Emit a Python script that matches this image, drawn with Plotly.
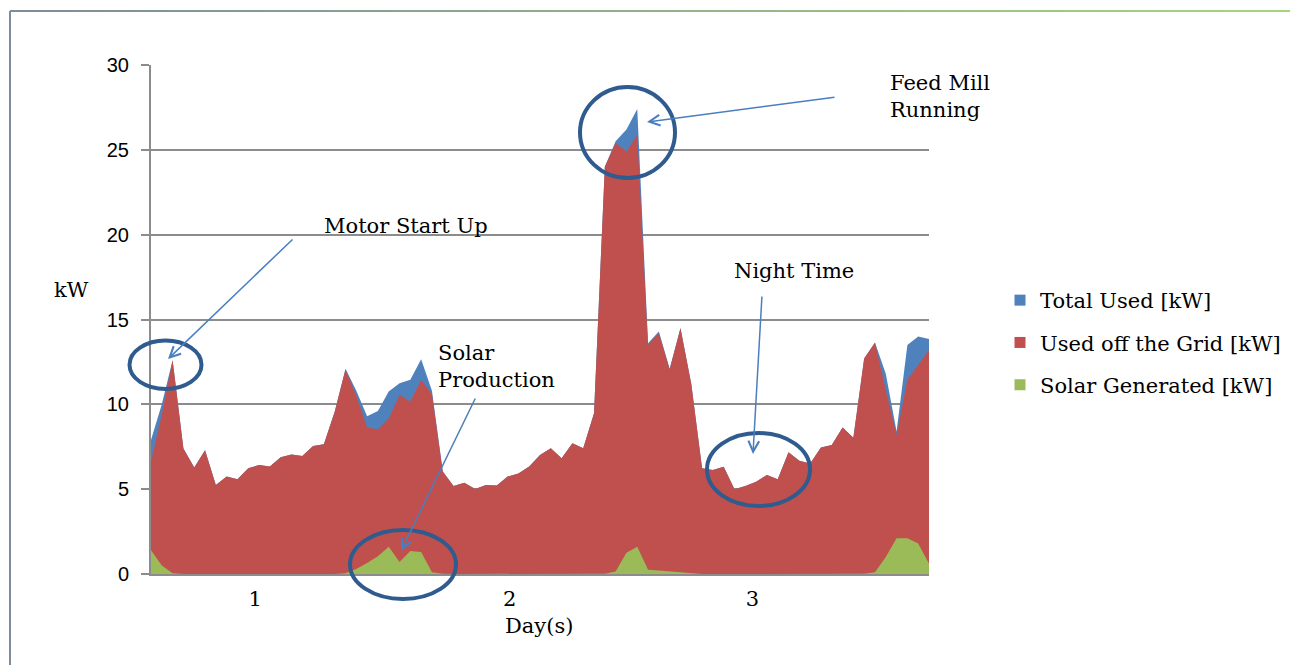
import plotly.graph_objects as go

# ---------------- data ----------------
hours = list(range(73))

total_used = [7.9, 10.0, 12.6, 7.4, 6.27, 7.3, 5.25, 5.74, 5.58, 6.23,
              6.42, 6.33, 6.88, 7.05, 6.95, 7.54, 7.64, 9.57, 12.1, 10.8,
              9.3, 9.6, 10.75, 11.24, 11.45, 12.65, 10.8, 6.05, 5.19, 5.38,
              5.01, 5.25, 5.21, 5.74, 5.93, 6.33, 7.01, 7.41, 6.82, 7.7,
              7.41, 9.47, 24.0, 25.5, 26.2, 27.4, 13.6, 14.3, 12.1, 14.5,
              11.2, 6.23, 6.13, 6.32, 5.0, 5.19, 5.44, 5.83, 5.58, 7.17,
              6.68, 6.52, 7.45, 7.6, 8.64, 8.03, 12.7, 13.65, 11.8, 8.4,
              13.5, 14.0, 13.85]

grid_used = [6.6, 9.4, 12.6, 7.4, 6.27, 7.3, 5.25, 5.74, 5.58, 6.23,
             6.42, 6.33, 6.88, 7.05, 6.95, 7.54, 7.64, 9.57, 12.06, 10.5,
             8.64, 8.53, 9.17, 10.55, 10.16, 11.43, 10.6, 6.03, 5.19, 5.38,
             5.01, 5.25, 5.21, 5.74, 5.93, 6.33, 7.01, 7.41, 6.82, 7.7,
             7.41, 9.47, 24.0, 25.4, 24.9, 25.87, 13.5, 14.2, 12.06, 14.48,
             11.2, 6.23, 6.13, 6.32, 5.0, 5.19, 5.44, 5.83, 5.58, 7.17,
             6.68, 6.52, 7.45, 7.6, 8.64, 8.03, 12.7, 13.63, 10.84, 8.2,
             11.43, 12.3, 13.2]

solar_gen = [1.4, 0.5, 0.05, 0, 0, 0, 0, 0, 0, 0,
             0, 0, 0, 0, 0, 0, 0, 0, 0.05, 0.3,
             0.65, 1.05, 1.6, 0.7, 1.35, 1.3, 0.1, 0.02, 0, 0,
             0, 0, 0, 0, 0, 0, 0, 0, 0, 0,
             0, 0, 0.02, 0.15, 1.25, 1.6, 0.25, 0.2, 0.15, 0.1,
             0.05, 0, 0, 0, 0, 0, 0, 0, 0, 0,
             0, 0, 0, 0, 0, 0, 0.02, 0.1, 1.0, 2.1,
             2.1, 1.8, 0.6]

series_names = ["Total Used [kW]", "Used off the Grid [kW]", "Solar Generated [kW]"]
day_labels = ["1", "2", "3"]
day_tick_pos = [9.65, 33.2, 55.67]
y_ticks = [0, 5, 10, 15, 20, 25, 30]

# ---------------- style ----------------
BLUE = "#4F81BD"
RED = "#C0504D"
GREEN = "#9BBB59"
GRID = "#8C8C8C"
RING = "#2F5B8E"
ARROW = "#4A7EBF"
SERIF = "DejaVu Serif"
SANS = "Liberation Sans"
FS = 21

W, H = 1290, 665
L, R, T, B = 151, 929, 65, 574  # plot area in pixels
XMAX, YMAX = 72, 30


def px2paper(px, py):
    return (px - L) / (R - L), (B - py) / (B - T)


def px2data(px, py):
    return (px - L) / (R - L) * XMAX, (B - py) / (B - T) * YMAX


fig = go.Figure()
for vals, name, col in zip([total_used, grid_used, solar_gen], series_names,
                           [BLUE, RED, GREEN]):
    fig.add_trace(go.Scatter(x=hours, y=vals, name=name, mode="lines",
                             line=dict(width=0, color=col), fill="tozeroy",
                             fillcolor=col, showlegend=False))
# legend swatches
for i, (name, col) in enumerate(zip(series_names, [BLUE, RED, GREEN])):
    fig.add_trace(go.Scatter(x=[None], y=[None], name=name, mode="markers",
                             marker=dict(symbol="square", size=11, color=col),
                             legendgroup="g%d" % i, showlegend=True))

shapes = []
# slide frame: left vertical line and gradient top line
x0p, y0p = px2paper(10, 11)
_, ybot = px2paper(10, 665)
shapes.append(dict(type="line", xref="paper", yref="paper", x0=x0p, x1=x0p,
                   y0=y0p, y1=ybot, line=dict(color="#7F8C99", width=2)))
nseg = 40
c0 = (127, 140, 153)
c1 = (166, 214, 126)
for k in range(nseg):
    xa = 10 + (1290 - 10) * k / nseg
    xb = 10 + (1290 - 10) * (k + 1) / nseg
    t = (k + 0.5) / nseg
    c = tuple(int(round(c0[j] + (c1[j] - c0[j]) * t)) for j in range(3))
    pa, _ = px2paper(xa, 11)
    pb, _ = px2paper(xb, 11)
    shapes.append(dict(type="line", xref="paper", yref="paper", x0=pa, x1=pb,
                       y0=y0p, y1=y0p,
                       line=dict(color="rgb(%d,%d,%d)" % c, width=2)))

# highlight ellipses (pixel boxes)
rings = [(129.5, 340.6, 201.5, 389), (350, 530, 456, 599),
         (580, 87, 675, 178), (707, 433, 810, 506)]
for (xa, ya, xb, yb) in rings:
    pa, qa = px2paper(xa, ya)
    pb, qb = px2paper(xb, yb)
    shapes.append(dict(type="circle", xref="paper", yref="paper",
                       x0=pa, x1=pb, y0=qb, y1=qa,
                       line=dict(color=RING, width=4), layer="above"))

annotations = []
# arrows (tail -> head) in pixel coordinates converted to data
arrows = [((294, 238), (168, 359)), ((476, 397), (401, 551)),
          ((836, 97), (647, 122)), ((762, 295), (753, 454))]
for (tail, head) in arrows:
    hx, hy = px2data(*head)
    tx, ty = px2data(*tail)
    annotations.append(dict(x=hx, y=hy, ax=tx, ay=ty, xref="x", yref="y",
                            axref="x", ayref="y", text="", showarrow=True,
                            arrowhead=5, arrowsize=1.4, arrowwidth=1.5,
                            arrowcolor=ARROW, standoff=0, startstandoff=0))

texts = [("Motor Start Up", 322, 226), ("Solar<br>Production", 436, 366),
         ("Feed Mill<br>Running", 888, 96), ("Night Time", 732, 271),
         ("kW", 52, 290)]
for (txt, px, py) in texts:
    xp, yp = px2paper(px, py)
    annotations.append(dict(x=xp, y=yp, xref="paper", yref="paper", text=txt,
                            showarrow=False, xanchor="left", yanchor="middle",
                            align="left", font=dict(family=SERIF, size=FS,
                                                    color="#000000")))
xp, yp = px2paper(539, 626)
annotations.append(dict(x=xp, y=yp, xref="paper", yref="paper", text="Day(s)",
                        showarrow=False, xanchor="center", yanchor="middle",
                        font=dict(family=SERIF, size=FS, color="#000000")))

lx, ly = px2paper(1000, 280)
fig.update_layout(
    width=W, height=H, autosize=False,
    margin=dict(l=L, r=W - R, t=T, b=H - B, pad=0, autoexpand=False),
    paper_bgcolor="white", plot_bgcolor="white",
    showlegend=True,
    legend=dict(x=lx, y=ly, xanchor="left", yanchor="top",
                font=dict(family=SERIF, size=FS, color="#000000"),
                traceorder="grouped", tracegroupgap=12,
                bgcolor="rgba(0,0,0,0)", borderwidth=0),
    xaxis=dict(range=[0, XMAX], showgrid=False, zeroline=False,
               showline=True, linecolor=GRID, linewidth=2,
               tickmode="array", tickvals=day_tick_pos, ticktext=day_labels,
               ticks="", tickfont=dict(family=SERIF, size=FS, color="#000000"),
               ticklabelstandoff=5),
    yaxis=dict(range=[0, YMAX], showgrid=True, gridcolor=GRID, gridwidth=1.6,
               zeroline=False, showline=True, linecolor=GRID, linewidth=2,
               tickmode="array", tickvals=y_ticks, ticks="outside", ticklen=8,
               tickcolor=GRID, tickwidth=2,
               tickfont=dict(family=SANS, size=20, color="#000000"),
               ticklabelstandoff=8),
    shapes=shapes, annotations=annotations,
)

fig.write_html("out.html", config={"displayModeBar": False},
               post_script="document.body.style.margin='0px';"
                           "document.body.style.overflow='hidden';")
